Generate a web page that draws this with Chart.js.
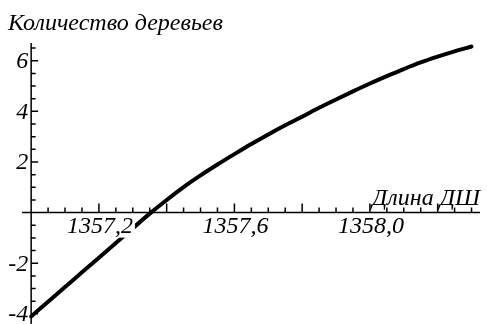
<!DOCTYPE html>
<html>
<head>
<meta charset="utf-8">
<style>
  html, body { margin: 0; padding: 0; background: #fff; }
  #wrap { width: 487px; height: 324px; }
</style>
<script src="https://cdn.jsdelivr.net/npm/chart.js@4/dist/chart.umd.min.js"></script>
</head>
<body>
<div id="wrap"><canvas id="c" width="487" height="324"></canvas></div>
<script>
// Length of the sample (ДШ) and the resulting number of trees
const lengths = [
  1357.00, 1357.05, 1357.10, 1357.15, 1357.20, 1357.25, 1357.30, 1357.35,
  1357.40, 1357.45, 1357.50, 1357.55, 1357.60, 1357.65, 1357.70, 1357.75,
  1357.80, 1357.85, 1357.90, 1357.95, 1358.00, 1358.05, 1358.10, 1358.15,
  1358.20, 1358.25, 1358.30
];
const treeCounts = [
  -4.10, -3.52, -2.94, -2.36, -1.78, -1.20, -0.62, -0.04,
   0.50,  1.01,  1.47,  1.90,  2.31,  2.71,  3.09,  3.45,
   3.79,  4.14,  4.47,  4.79,  5.10,  5.39,  5.67,  5.93,
   6.16,  6.37,  6.56
];

// Axis annotations
const xLabelValues = [1357.2, 1357.6, 1358.0];
const xLabels = ['1357,2', '1357,6', '1358,0'];
const yLabelValues = [-4, -2, 2, 4, 6];
const yLabels = ['-4', '-2', '2', '4', '6'];
const xTitle = 'Длина ДШ';
const yTitle = 'Количество деревьев';

// Axis geometry
const xOrigin = 1357.0;
const xMinorStep = 0.05, xMinorCount = 26, xMajorEvery = 4;
const yMinorStep = 0.5, yMinorFrom = -8, yMinorTo = 13, yMajorEvery = 4;

const FONT = 'italic 24px "Liberation Serif", "Times New Roman", serif';

// Draws math-style axes crossing at the origin, with ticks and labels
const crossAxes = {
  id: 'crossAxes',
  afterDatasetsDraw(chart) {
    const ctx = chart.ctx;
    const xs = chart.scales.x, ys = chart.scales.y;
    const x0 = xs.getPixelForValue(xOrigin);
    const y0 = ys.getPixelForValue(0);
    ctx.save();
    ctx.strokeStyle = '#000';
    ctx.lineWidth = 1.5;
    ctx.beginPath();
    ctx.moveTo(x0, ys.getPixelForValue(ys.max));
    ctx.lineTo(x0, ys.getPixelForValue(ys.min));
    ctx.moveTo(xs.getPixelForValue(xs.min), y0);
    ctx.lineTo(xs.getPixelForValue(xs.max), y0);
    for (let i = 1; i <= xMinorCount; i++) {
      const p = xs.getPixelForValue(xOrigin + i * xMinorStep);
      const len = (i % xMajorEvery === 0) ? 9 : 5;
      ctx.moveTo(p, y0);
      ctx.lineTo(p, y0 - len);
    }
    for (let i = yMinorFrom; i <= yMinorTo; i++) {
      if (i === 0) continue;
      const p = ys.getPixelForValue(i * yMinorStep);
      const len = (i % yMajorEvery === 0) ? 7 : 4.5;
      ctx.moveTo(x0, p);
      ctx.lineTo(x0 + len, p);
    }
    ctx.stroke();

    ctx.font = FONT;
    ctx.fillStyle = '#000';
    // x tick labels on white boxes
    ctx.textAlign = 'center';
    ctx.textBaseline = 'middle';
    xLabelValues.forEach((v, k) => {
      const p = xs.getPixelForValue(v) + 1;
      const w = ctx.measureText(xLabels[k]).width;
      ctx.fillStyle = '#fff';
      ctx.fillRect(p - w / 2 - 2, y0 + 4, w + 4, 21);
      ctx.fillStyle = '#000';
      ctx.fillText(xLabels[k], p, y0 + 14);
    });
    // y tick labels
    ctx.textAlign = 'right';
    yLabelValues.forEach((v, k) => {
      ctx.fillText(yLabels[k], x0 - 3, ys.getPixelForValue(v) + 1);
    });
    // axis titles
    ctx.textBaseline = 'alphabetic';
    ctx.textAlign = 'right';
    ctx.fillText(xTitle, xs.getPixelForValue(xs.max), y0 - 8);
    ctx.textAlign = 'left';
    ctx.fillText(yTitle, 8, 30);
    ctx.restore();
  }
};

new Chart(document.getElementById('c'), {
  type: 'scatter',
  data: {
    datasets: [{
      data: lengths.map((x, i) => ({ x, y: treeCounts[i] })),
      showLine: true,
      borderColor: '#000',
      borderWidth: 4,
      borderCapStyle: 'round',
      pointRadius: 0,
      cubicInterpolationMode: 'monotone',
      clip: false
    }]
  },
  options: {
    responsive: false,
    animation: false,
    devicePixelRatio: 1,
    layout: { padding: { left: 22, right: 7, top: 43, bottom: 0 } },
    plugins: { legend: { display: false }, title: { display: false }, tooltip: { enabled: false } },
    scales: {
      x: { type: 'linear', min: 1356.973, max: 1358.325, display: false },
      y: { type: 'linear', min: -4.40, max: 6.70, display: false }
    }
  },
  plugins: [crossAxes]
});
</script>
</body>
</html>
